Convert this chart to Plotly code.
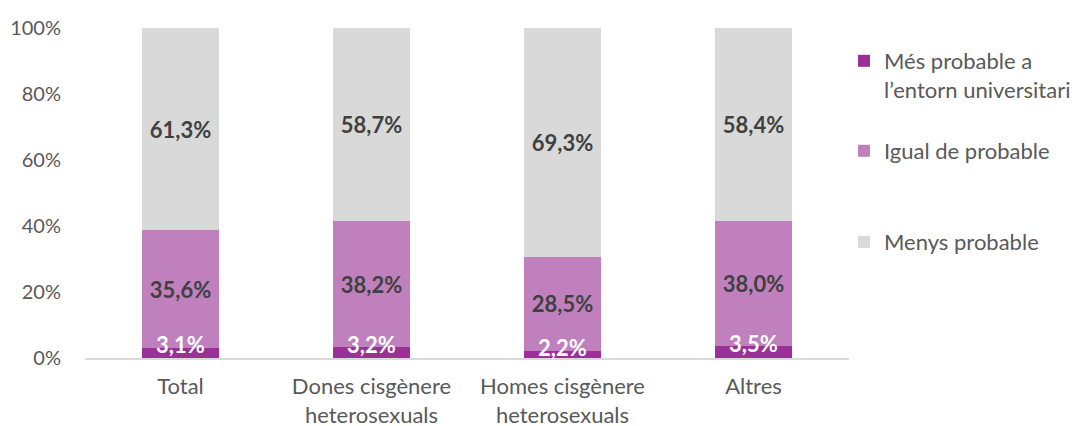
import plotly.graph_objects as go

categories = ["Total", "Dones cisgènere<br>heterosexuals", "Homes cisgènere<br>heterosexuals", "Altres"]
mes_probable = [3.1, 3.2, 2.2, 3.5]
igual_probable = [35.6, 38.2, 28.5, 38.0]
menys_probable = [61.3, 58.7, 69.3, 58.4]
series_names = ["Més probable a<br>l’entorn universitari", "Igual de probable", "Menys probable"]
colors = ["#9B3096", "#BF80BD", "#D9D9D9"]
y_ticks = [0, 20, 40, 60, 80, 100]

FONT = "Lato"
TXT = "#595959"

def fmt(v):
    return f"{v:.1f}".replace(".", ",") + "%"

fig = go.Figure()
series = [mes_probable, igual_probable, menys_probable]
legends = ["legend", "legend2", "legend3"]
for i, (vals, name, col) in enumerate(zip(series, series_names, colors)):
    fig.add_trace(go.Bar(
        x=categories, y=vals, name=name, marker=dict(color=col, line=dict(width=0)),
        text=None if i == 0 else [fmt(v) for v in vals],
        textposition="inside" if i else None,
        insidetextanchor="middle",
        textfont=dict(family=FONT, size=22, color="#404040", weight="bold"),
        constraintext="none",
        legend=legends[i],
        hoverinfo="skip",
    ))

# small-segment labels (white)
for c, v in zip(categories, mes_probable):
    fig.add_annotation(x=c, y=v, text=fmt(v), showarrow=False, yanchor="middle", yshift=3,
                       font=dict(family=FONT, size=22, color="white", weight="bold"))

W, H = 1080, 426
leg_common = dict(font=dict(family=FONT, size=22, color=TXT), bgcolor="rgba(0,0,0,0)",
                  xref="container", yref="container", x=836/W, xanchor="left",
                  yanchor="top", valign="top", itemwidth=30)
fig.update_layout(
    barmode="stack",
    bargap=0.6,
    width=W, height=H,
    margin=dict(l=77, r=239, t=20, b=76, autoexpand=False),
    plot_bgcolor="white", paper_bgcolor="white",
    font=dict(family=FONT, size=20, color=TXT),
    showlegend=True,
    legend=dict(**leg_common, y=1 - 32/H),
    legend2=dict(**leg_common, y=1 - 122/H),
    legend3=dict(**leg_common, y=1 - 213/H),
    uniformtext=dict(minsize=8, mode=False),
)
fig.update_yaxes(range=[0, 100], tickvals=y_ticks, ticktext=[f"{t}%" for t in y_ticks],
                 showgrid=False, zeroline=False, showline=False, ticklabelstandoff=23,
                 automargin=False, tickfont=dict(family=FONT, size=20, color=TXT))
fig.update_xaxes(showline=True, linecolor="#D9D9D9", linewidth=1.5, ticks="",
                 automargin=False, ticklabelstandoff=8, tickfont=dict(family=FONT, size=22, color=TXT))

fig.write_html("out.html")
